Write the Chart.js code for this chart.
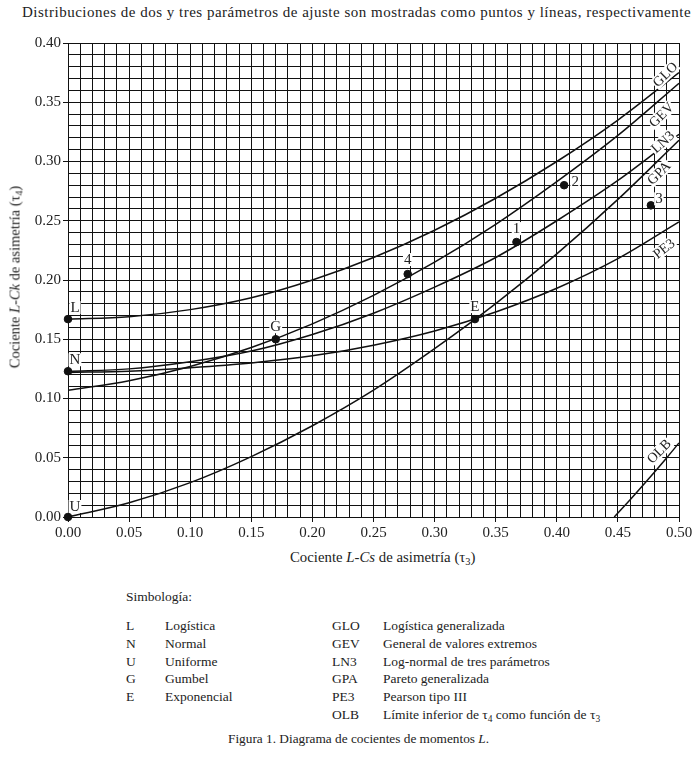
<!DOCTYPE html>
<html lang="es">
<head>
<meta charset="utf-8">
<title>Diagrama de cocientes de momentos L</title>
<script src="https://cdn.jsdelivr.net/npm/chart.js@4.4.1/dist/chart.umd.min.js"></script>
<style>
    body { margin: 0; background: #fff; }
    #page { position: relative; width: 700px; height: 778px; font-family: 'Liberation Serif', 'Times New Roman', serif; color: #222; }
    #title { position: absolute; left: 22px; top: 4px; font-size: 15px; letter-spacing: 0.5px; white-space: nowrap; }
    #chart-box { position: absolute; left: 0; top: 0; width: 700px; height: 545px; }
    #x-title { position: absolute; left: 290px; top: 549px; font-size: 14.8px; white-space: nowrap; }
    #y-title { position: absolute; left: 15px; top: 277px; font-size: 14.5px; white-space: nowrap; transform: translate(-50%, -50%) rotate(-90deg); }
    sub { font-size: 70%; vertical-align: -0.3em; line-height: 0; }
    .legend { position: absolute; font-size: 13.5px; white-space: nowrap; line-height: 17.8px; }
    #caption { position: absolute; left: 228px; top: 731px; font-size: 13.3px; white-space: nowrap; }
</style>
</head>
<body>
<div id="page">
    <div id="title">Distribuciones de dos y tres parámetros de ajuste son mostradas como puntos y líneas, respectivamente</div>
    <div id="chart-box"><canvas id="lmoments"></canvas></div>
    <div id="x-title">Cociente <i>L-Cs</i> de asimetría (τ<sub>3</sub>)</div>
    <div id="y-title">Cociente <i>L-Ck</i> de asimetría (τ<sub>4</sub>)</div>

    <div class="legend" style="left:126px; top:588px;">Simbología:</div>
    <div class="legend" style="left:126px; top:617px;">L<br>N<br>U<br>G<br>E</div>
    <div class="legend" style="left:165px; top:617px;">Logística<br>Normal<br>Uniforme<br>Gumbel<br>Exponencial</div>
    <div class="legend" style="left:332px; top:617px;">GLO<br>GEV<br>LN3<br>GPA<br>PE3<br>OLB</div>
    <div class="legend" style="left:383px; top:617px;">Logística generalizada<br>General de valores extremos<br>Log-normal de tres parámetros<br>Pareto generalizada<br>Pearson tipo III<br>Límite inferior de τ<sub>4</sub> como función de τ<sub>3</sub></div>

    <div id="caption">Figura 1. Diagrama de cocientes de momentos <i>L</i>.</div>
</div>

<script>
var tau3Grid = [0.00, 0.05, 0.10, 0.15, 0.20, 0.25, 0.30, 0.35, 0.40, 0.45, 0.50];
var gloTau4 = [0.167, 0.169, 0.175, 0.185, 0.200, 0.219, 0.242, 0.269, 0.300, 0.335, 0.375];
var gevTau4 = [0.107, 0.115, 0.127, 0.143, 0.163, 0.187, 0.215, 0.247, 0.283, 0.322, 0.366];
var ln3Tau4 = [0.123, 0.125, 0.131, 0.140, 0.154, 0.172, 0.194, 0.219, 0.250, 0.284, 0.323];
var gpaTau4 = [0.000, 0.012, 0.029, 0.051, 0.077, 0.107, 0.142, 0.180, 0.222, 0.268, 0.318];
var pe3Tau4 = [0.122, 0.123, 0.126, 0.130, 0.136, 0.145, 0.157, 0.173, 0.193, 0.218, 0.249];

var olbTau3 = [0.447, 0.460, 0.475, 0.490, 0.500];
var olbTau4 = [0.000, 0.0145, 0.032, 0.050, 0.0625];

var distNames = ['L', 'N', 'U', 'G', 'E'];
var distTau3 = [0.000, 0.000, 0.000, 0.170, 0.333];
var distTau4 = [0.167, 0.123, 0.000, 0.150, 0.167];

var sampleNames = ['1', '2', '3', '4'];
var sampleTau3 = [0.367, 0.406, 0.477, 0.278];
var sampleTau4 = [0.232, 0.280, 0.263, 0.205];

var xTickLabels = ['0.00', '0.05', '0.10', '0.15', '0.20', '0.25', '0.30', '0.35', '0.40', '0.45', '0.50'];
var yTickLabels = ['0.00', '0.05', '0.10', '0.15', '0.20', '0.25', '0.30', '0.35', '0.40'];

var curveNames = ['GLO', 'GEV', 'LN3', 'GPA', 'PE3', 'OLB'];

// where the text labels sit (data units) and how far they are turned
var curveLabelPos = [
    { x: 0.489, y: 0.373, angle: -45 },
    { x: 0.486, y: 0.339, angle: -45 },
    { x: 0.487, y: 0.316, angle: -42 },
    { x: 0.484, y: 0.290, angle: -45 },
    { x: 0.488, y: 0.226, angle: -38 },
    { x: 0.484, y: 0.055, angle: -45 }
];
var distLabelOffset = [[7, -11], [7, -11], [7, -10], [0, -12], [0, -12]];
var sampleLabelOffset = [[0, -13], [11, -3], [8, -6], [0, -14]];

function toPoints(xs, ys) {
    return xs.map(function(x, i) { return { x: x, y: ys[i] }; });
}

function curve(label, ys) {
    return {
        label: label,
        data: toPoints(tau3Grid, ys),
        borderColor: '#111',
        borderWidth: 1.5,
        pointRadius: 0,
        cubicInterpolationMode: 'monotone',
        fill: false
    };
}

function isMajor(value) {
    return Math.round(value * 100) % 5 === 0;
}

var serif = "'Liberation Serif', 'Times New Roman', serif";

// text with a white box behind it, so the grid is knocked out like in the print
function knockoutText(ctx, text, x, y, angle) {
    var w = ctx.measureText(text).width;
    ctx.save();
    ctx.translate(x, y);
    ctx.rotate((angle || 0) * Math.PI / 180);
    ctx.fillStyle = '#fff';
    ctx.fillRect(-w / 2 - 1, -7, w + 2, 13);
    ctx.fillStyle = '#222';
    ctx.fillText(text, 0, 0);
    ctx.restore();
}

var labelPlugin = {
    id: 'labelPlugin',
    afterDatasetsDraw: function(chart) {
        var ctx = chart.ctx;
        var xs = chart.scales.x;
        var ys = chart.scales.y;
        ctx.save();
        ctx.font = '15px ' + serif;
        ctx.textAlign = 'center';
        ctx.textBaseline = 'middle';

        distNames.forEach(function(name, i) {
            knockoutText(ctx, name,
                xs.getPixelForValue(distTau3[i]) + distLabelOffset[i][0],
                ys.getPixelForValue(distTau4[i]) + distLabelOffset[i][1]);
        });
        sampleNames.forEach(function(name, i) {
            knockoutText(ctx, name,
                xs.getPixelForValue(sampleTau3[i]) + sampleLabelOffset[i][0],
                ys.getPixelForValue(sampleTau4[i]) + sampleLabelOffset[i][1]);
        });

        ctx.font = '14px ' + serif;
        curveNames.forEach(function(name, i) {
            var pos = curveLabelPos[i];
            knockoutText(ctx, name, xs.getPixelForValue(pos.x), ys.getPixelForValue(pos.y), pos.angle);
        });
        ctx.restore();
    }
};

var gridOpts = {
    color: '#111',
    lineWidth: 1,
    tickLength: 5,
    tickColor: function(context) {
        return context.tick && isMajor(context.tick.value) ? '#111' : 'rgba(0,0,0,0)';
    }
};

new Chart('lmoments', {
    type: 'line',
    data: {
        datasets: [
            curve('GLO', gloTau4),
            curve('GEV', gevTau4),
            curve('LN3', ln3Tau4),
            curve('GPA', gpaTau4),
            curve('PE3', pe3Tau4),
            {
                label: 'OLB',
                data: toPoints(olbTau3, olbTau4),
                borderColor: '#111',
                borderWidth: 1.5,
                pointRadius: 0,
                cubicInterpolationMode: 'monotone',
                fill: false
            },
            {
                label: 'Distribuciones',
                data: toPoints(distTau3, distTau4),
                showLine: false,
                pointRadius: 3.8,
                pointBackgroundColor: '#111',
                pointBorderColor: '#111',
                clip: false
            },
            {
                label: 'Muestras',
                data: toPoints(sampleTau3, sampleTau4),
                showLine: false,
                pointRadius: 3.8,
                pointBackgroundColor: '#111',
                pointBorderColor: '#111',
                clip: false
            }
        ]
    },
    options: {
        responsive: true,
        maintainAspectRatio: false,
        animation: false,
        layout: { padding: { left: 0, right: 21, top: 43, bottom: 0 } },
        plugins: {
            legend: { display: false },
            tooltip: { enabled: false }
        },
        scales: {
            x: {
                type: 'linear',
                min: 0,
                max: 0.5,
                grid: gridOpts,
                border: { color: '#111', width: 1 },
                afterFit: function(scale) { scale.height = 28; },
                ticks: {
                    stepSize: 0.01,
                    autoSkip: false,
                    maxRotation: 0,
                    padding: 2,
                    color: '#222',
                    font: { family: serif, size: 15 },
                    callback: function(value) {
                        return isMajor(value) ? xTickLabels[Math.round(value * 20)] : '';
                    }
                }
            },
            y: {
                type: 'linear',
                min: 0,
                max: 0.4,
                grid: gridOpts,
                border: { color: '#111', width: 1 },
                afterFit: function(scale) { scale.width = 68; },
                ticks: {
                    stepSize: 0.01,
                    autoSkip: false,
                    padding: 2,
                    color: '#222',
                    font: { family: serif, size: 15 },
                    callback: function(value) {
                        return isMajor(value) ? yTickLabels[Math.round(value * 20)] : '';
                    }
                }
            }
        }
    },
    plugins: [labelPlugin]
});
</script>
</body>
</html>
